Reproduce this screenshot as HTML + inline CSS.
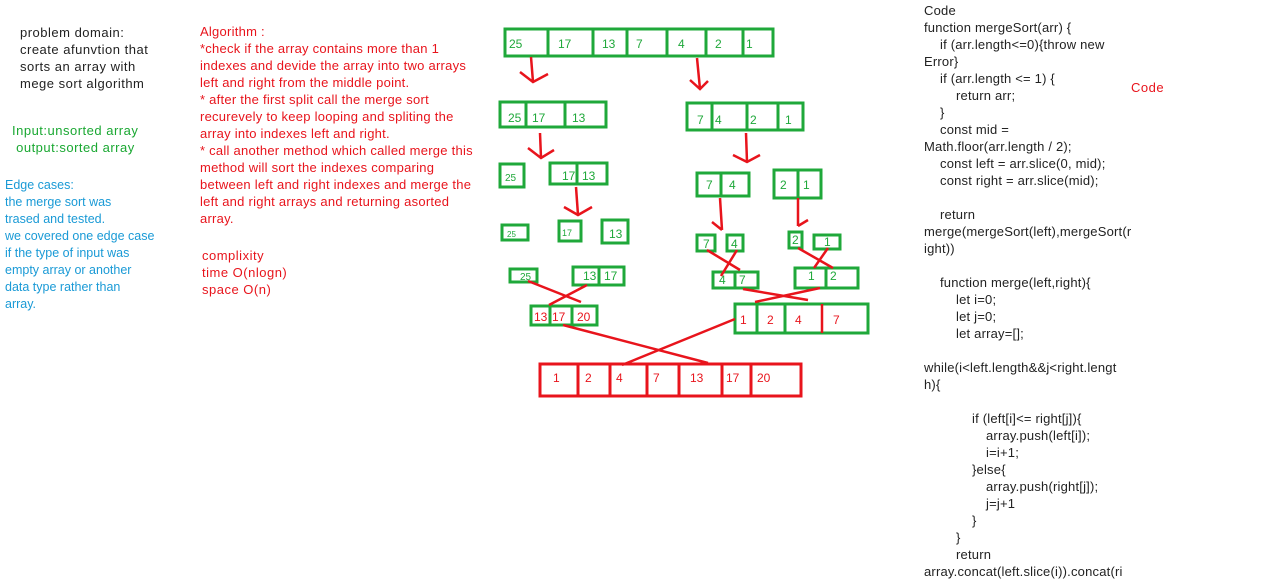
<!DOCTYPE html>
<html><head><meta charset="utf-8"><style>
html,body{margin:0;padding:0;background:#fff;width:1271px;height:585px;overflow:hidden;position:relative}
.t{position:absolute;font-family:"Liberation Sans",sans-serif;font-size:13px;letter-spacing:0.5px;line-height:17px;white-space:pre}
.c{position:absolute;font-family:"Liberation Sans",sans-serif;font-size:13px;letter-spacing:0.2px;line-height:17px;white-space:pre}
.c div{height:17px}
svg{position:absolute;left:0;top:0}
</style></head><body>
<div class="t" style="left:20px;top:24px;color:#222">problem domain:
create afunvtion that
sorts an array with
mege sort algorithm</div>
<div class="t" style="left:12px;top:122px;color:#1aa832">Input:unsorted array
 output:sorted array</div>
<div class="t" style="left:5px;top:177px;color:#1a9ad6;letter-spacing:0;font-size:12.5px">Edge cases:
the merge sort was
trased and tested.
we covered one edge case
if the type of input was
empty array or another
data type rather than
array.</div>
<div class="t" style="left:200px;top:23px;color:#e8141c;letter-spacing:0.25px">Algorithm :
*check if the array contains more than 1
indexes and devide the array into two arrays
left and right from the middle point.
* after the first split call the merge sort
recurevely to keep looping and spliting the
array into indexes left and right.
* call another method which called merge this
method will sort the indexes comparing
between left and right indexes and merge the
left and right arrays and returning asorted
array.</div>
<div class="t" style="left:202px;top:247px;color:#e8141c">complixity
time O(nlogn)
space O(n)</div>
<div class="t" style="left:1131px;top:79px;color:#e8141c">Code</div>
<div class="c" style="left:924px;top:2px;color:#222"><div>Code</div><div>function mergeSort(arr) {</div><div style="padding-left:16px">if (arr.length&lt;=0){throw new</div><div>Error}</div><div style="padding-left:16px">if (arr.length &lt;= 1) {</div><div style="padding-left:32px">return arr;</div><div style="padding-left:16px">}</div><div style="padding-left:16px">const mid =</div><div>Math.floor(arr.length / 2);</div><div style="padding-left:16px">const left = arr.slice(0, mid);</div><div style="padding-left:16px">const right = arr.slice(mid);</div><div></div><div style="padding-left:16px">return</div><div>merge(mergeSort(left),mergeSort(r</div><div>ight))</div><div></div><div style="padding-left:16px">function merge(left,right){</div><div style="padding-left:32px">let i=0;</div><div style="padding-left:32px">let j=0;</div><div style="padding-left:32px">let array=[];</div><div></div><div>while(i&lt;left.length&amp;&amp;j&lt;right.lengt</div><div>h){</div><div></div><div style="padding-left:48px">if (left[i]&lt;= right[j]){</div><div style="padding-left:62px">array.push(left[i]);</div><div style="padding-left:62px">i=i+1;</div><div style="padding-left:48px">}else{</div><div style="padding-left:62px">array.push(right[j]);</div><div style="padding-left:62px">j=j+1</div><div style="padding-left:48px">}</div><div style="padding-left:32px">}</div><div style="padding-left:32px">return</div><div>array.concat(left.slice(i)).concat(ri</div></div>
<svg width="1271" height="585" font-family="Liberation Sans,sans-serif" font-size="12">
<g fill="none" stroke="#1fa83a" stroke-width="3">
<rect x="505" y="29" width="268" height="27"/><path d="M548 29V56M593 29V56M627 29V56M667 29V56M706 29V56M743 29V56"/>
<rect x="500" y="102" width="106" height="25"/><path d="M526 102V127M565 102V127"/>
<rect x="687" y="103" width="116" height="27"/><path d="M712 103V130M747 103V130M778 103V130"/>
<rect x="500" y="164" width="24" height="23"/>
<rect x="550" y="163" width="57" height="21"/><path d="M577 163V184"/>
<rect x="697" y="173" width="52" height="23"/><path d="M721 173V196"/>
<rect x="774" y="170" width="47" height="28"/><path d="M798 170V198"/>
<rect x="502" y="225" width="26" height="15"/>
<rect x="559" y="221" width="22" height="20"/>
<rect x="602" y="220" width="26" height="23"/>
<rect x="697" y="235" width="18" height="16"/>
<rect x="727" y="235" width="16" height="16"/>
<rect x="789" y="232" width="13" height="16"/>
<rect x="814" y="235" width="26" height="14"/>
<rect x="510" y="269" width="27" height="13"/>
<rect x="573" y="267" width="51" height="18"/><path d="M599 267V285"/>
<rect x="713" y="272" width="45" height="16"/><path d="M735 272V288"/>
<rect x="795" y="268" width="63" height="20"/><path d="M826 268V288"/>
<rect x="531" y="306" width="66" height="19"/><path d="M550 306V325M572 306V325"/>
<rect x="735" y="304" width="133" height="29"/><path d="M757 304V333M785 304V333"/>
</g>
<g fill="none" stroke="#e8141c" stroke-width="2.5">
<path d="M531 57L533 82M520 72L533 82L548 74"/>
<path d="M697 58L700 89M690 80L700 89L708 81"/>
<path d="M540 133L541 158M528 148L541 158L554 150"/>
<path d="M746 133L747 162M733 155L747 162L760 155"/>
<path d="M576 187L578 215M564 207L578 215L592 207"/>
<path d="M720 198L722 230M712 222L722 230"/>
<path d="M798 198L798 226M808 220L798 226"/>
<path d="M528 281L581 302M587 285L549 305"/>
<path d="M707 250L740 270M737 250L721 276"/>
<path d="M798 248L833 268M828 248L814 268"/>
<path d="M743 289L808 300M755 302L820 288"/>
<path d="M822 304V333"/>
<path d="M563 325L708 363M735 319L622 365"/>
<rect x="540" y="364" width="261" height="32" stroke-width="3"/>
<path d="M578 364V396M610 364V396M647 364V396M679 364V396M722 364V396M751 364V396" stroke-width="3"/>
</g>
<g fill="#1fa83a">
<text x="509" y="48">25</text><text x="558" y="48">17</text><text x="602" y="48">13</text><text x="636" y="48">7</text><text x="678" y="48">4</text><text x="715" y="48">2</text><text x="746" y="48">1</text>
<text x="508" y="122">25</text><text x="532" y="122">17</text><text x="572" y="122">13</text>
<text x="697" y="124">7</text><text x="715" y="124">4</text><text x="750" y="124">2</text><text x="785" y="124">1</text>
<text x="505" y="181" font-size="10">25</text><text x="562" y="180">17</text><text x="582" y="180">13</text>
<text x="706" y="189">7</text><text x="729" y="189">4</text><text x="780" y="189">2</text><text x="803" y="189">1</text>
<text x="507" y="237" font-size="8">25</text><text x="562" y="236" font-size="9">17</text><text x="609" y="238">13</text>
<text x="703" y="248">7</text><text x="731" y="248">4</text><text x="792" y="244">2</text><text x="824" y="246">1</text>
<text x="520" y="280" font-size="10">25</text><text x="583" y="280">13</text><text x="604" y="280">17</text>
<text x="719" y="284">4</text><text x="739" y="284">7</text><text x="808" y="280">1</text><text x="830" y="280">2</text>
</g>
<g fill="#e8141c">
<text x="534" y="321">13</text><text x="552" y="321">17</text><text x="577" y="321">20</text>
<text x="740" y="324">1</text><text x="767" y="324">2</text><text x="795" y="324">4</text><text x="833" y="324">7</text>
<text x="553" y="382">1</text><text x="585" y="382">2</text><text x="616" y="382">4</text><text x="653" y="382">7</text><text x="690" y="382">13</text><text x="726" y="382">17</text><text x="757" y="382">20</text>
</g>
</svg>
</body></html>
